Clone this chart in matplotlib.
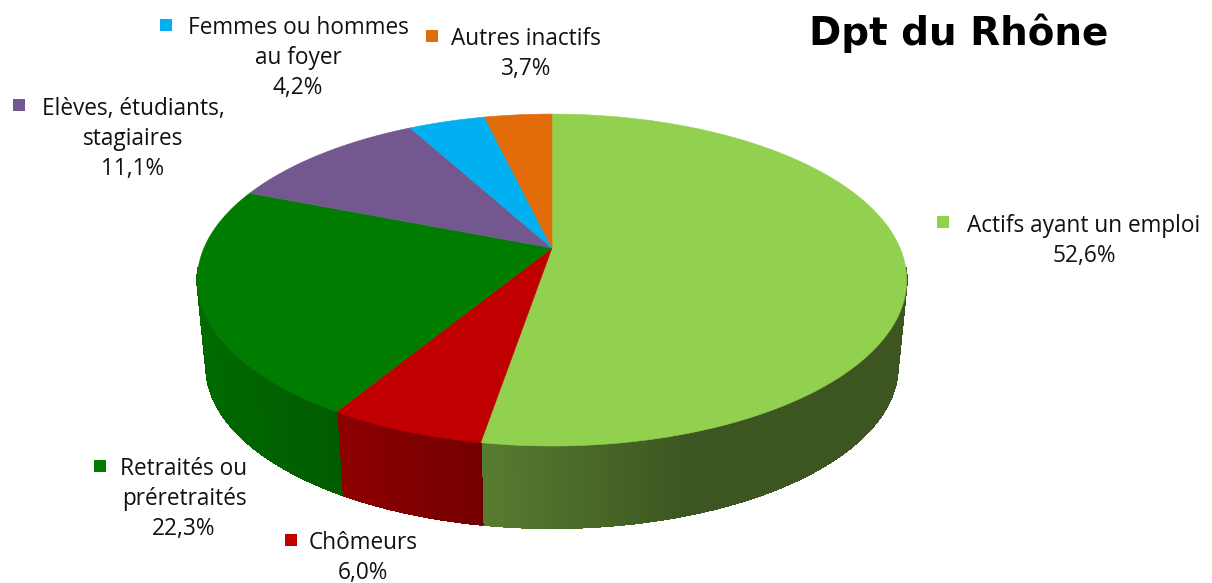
#!/usr/bin/env python3
"""3D pie of population by activity, Dpt du Rhône."""

import numpy as np
import matplotlib
matplotlib.use('Agg')
import matplotlib.pyplot as plt

# Data (clockwise from the top)
names = ['Actifs ayant un emploi', 'Chômeurs', 'Retraités ou\npréretraités',
         'Elèves, étudiants,\nstagiaires', 'Femmes ou hommes\nau foyer',
         'Autres inactifs']
shares = [52.6, 6.0, 22.3, 11.1, 4.2, 3.7]
colors = ['#92d050', '#c00000', '#007c00', '#72588f', '#00b0f0', '#e36c0a']
title = 'Dpt du Rhône'

# Label layout in pixels: text centre x, text centre y, marker x, marker y
label_pos = [(1084, 241, 943, 222), (363, 558, 291, 540), (184, 499, 100, 466),
             (133, 139, 19, 105), (298, 58, 166, 25), (526, 54, 432, 36)]

# Perspective of the pie (pixels)
CX, CY = 552, 248
A, B, K = 348.0, 159.8, 0.193
DEPTH, SHRINK = 87, 0.975


def project(theta, scale=1.0, dy=0.0):
    """Circle angle (clockwise from top) to image pixels, with perspective."""
    u, v = np.sin(theta), -np.cos(theta)
    den = 1 - K * v
    return CX + scale * A * u / den, CY + dy + scale * B * v / den


def wall_shade(x):
    """Brightness of the side wall, fades from left to right."""
    return np.interp(x, [197, 335, 480, 690], [0.86, 0.74, 0.60, 0.41])


fig = plt.figure(figsize=(12.12, 5.83), dpi=100)
ax = fig.add_axes([0, 0, 1, 1])
ax.set_xlim(0, 1212)
ax.set_ylim(583, 0)
ax.axis('off')

edges = np.cumsum([0] + shares) / sum(shares) * 2 * np.pi

# Side wall first, as thin strips, then the top face over it
for i, col in enumerate(colors):
    base = np.array(matplotlib.colors.to_rgb(col))
    th = np.arange(edges[i], edges[i + 1] + 0.004, 0.004)
    th[-1] = min(th[-1], edges[i + 1])
    for t0, t1 in zip(th[:-1], th[1:]):
        if np.cos((t0 + t1) / 2) > -0.12:
            continue  # back side, hidden
        xt, yt = project(np.array([t0, t1]))
        xb, yb = project(np.array([t0, t1]), SHRINK, DEPTH)
        c = base * wall_shade((xt.mean() + xb.mean()) / 2)
        ax.fill([xt[0], xt[1], xb[1], xb[0]], [yt[0], yt[1], yb[1], yb[0]],
                color=c, lw=0.8, antialiased=False, zorder=1)

for i, col in enumerate(colors):
    th = np.linspace(edges[i], edges[i + 1], 200)
    x, y = project(th)
    ax.fill(np.r_[CX, x], np.r_[CY, y], color=col, lw=0.4, zorder=2)

font = ['Open Sans', 'DejaVu Sans']
for name, share, col, (tx, ty, mx, my) in zip(names, shares, colors, label_pos):
    label = f'{name}\n{share:.1f}%'.replace('.', ',')
    ax.text(tx, ty, label, ha='center', va='center', fontsize=16.3,
            family=font, color='#111111', linespacing=1.33, zorder=3)
    ax.plot([mx], [my], marker='s', ms=9.3, color=col, mew=0, zorder=3)

ax.text(959, 33, title, ha='center', va='center', fontsize=28,
        fontweight='bold', family='DejaVu Sans', color='black')

fig.savefig('out.png', dpi=100)
